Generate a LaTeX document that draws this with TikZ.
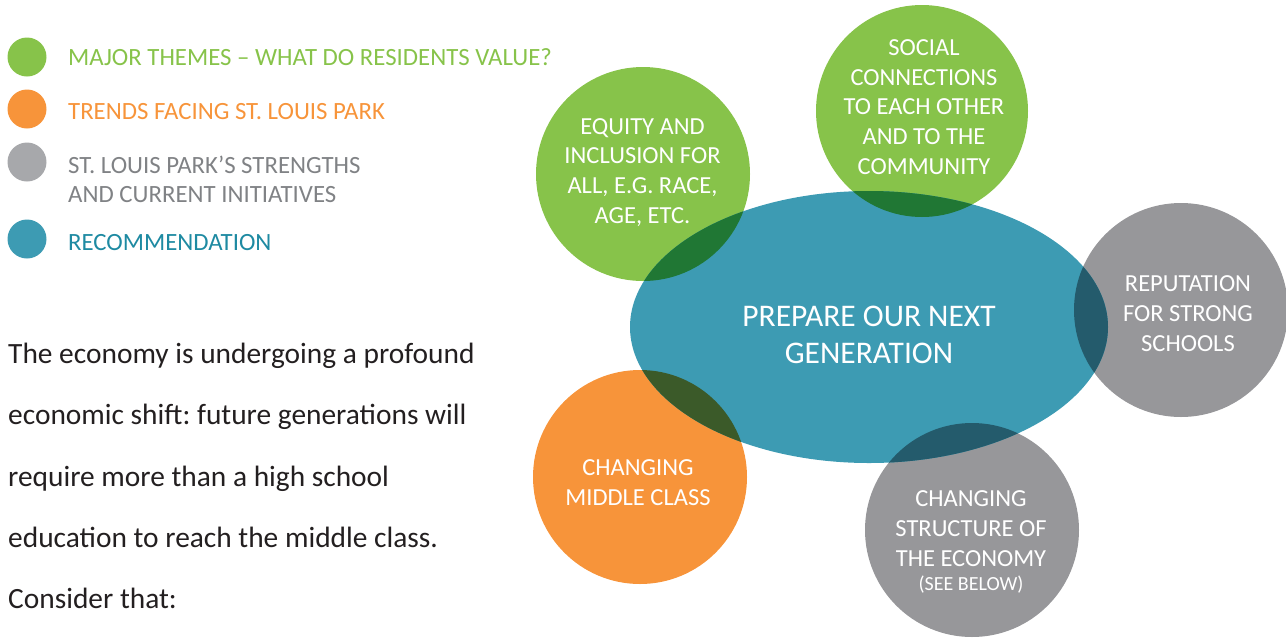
\documentclass[tikz,border=0pt]{standalone}
\usepackage{fontspec}
\setmainfont{Carlito}
\frenchspacing
\definecolor{cgreen}{RGB}{135,195,74}
\definecolor{corange}{RGB}{247,148,58}
\definecolor{cgray}{RGB}{151,151,154}
\definecolor{clgray}{RGB}{167,168,171}
\definecolor{cteal}{RGB}{61,155,179}
\definecolor{dgreen}{RGB}{32,119,52}
\definecolor{dorange}{RGB}{59,90,41}
\definecolor{dgray}{RGB}{36,91,108}
\definecolor{tgray}{RGB}{128,130,133}
\definecolor{tteal}{RGB}{30,138,162}
\definecolor{bodytext}{RGB}{35,31,32}
\begin{document}
\begin{tikzpicture}[x=1pt,y=-1pt,
  ctext/.style={text=white, align=center, font=\fontsize{24.5}{29.6}\selectfont, inner sep=0pt, anchor=base},
  legtext/.style={anchor=base west, inner sep=0pt, align=left, font=\fontsize{24.8}{29}\selectfont},
  bodyline/.style={anchor=base west, inner sep=0pt, text=bodytext, font=\fontsize{29.4}{35}\selectfont}]
\useasboundingbox (0,0) rectangle (1286,638);
% legend
\fill[cgreen] (27,57) circle (19.5);
\fill[corange] (27,109) circle (19.5);
\fill[clgray] (27,162) circle (19.5);
\fill[cteal] (27,239) circle (19.5);
\node[legtext, text=cgreen] (l1) at (68,65.5) {MAJOR THEMES – WHAT DO RESIDENTS VALUE?};
\node[legtext, text=corange] (l2) at (68,119) {TRENDS FACING ST. LOUIS PARK};
\node[legtext, text=tgray] (l3) at (68,202) {ST. LOUIS PARK’S STRENGTHS\\AND CURRENT INITIATIVES};
\node[legtext, text=tteal] (l4) at (68,250) {RECOMMENDATION};
% body text
\node[bodyline] (b1) at (8,363) {The economy is undergoing a profound};
\node[bodyline] (b2) at (8,424.5) {economic shift: future generations will};
\node[bodyline] (b3) at (8,486) {require more than a high school};
\node[bodyline] (b4) at (8,547) {education to reach the middle class.};
\node[bodyline] (b5) at (8,608) {Consider that:};
% shapes
\fill[cgreen] (643,174) circle (107);
\fill[cgreen] (922,111) circle (106);
\fill[cgray] (1181,310) circle (107);
\fill[corange] (640,477) circle (107);
\fill[cgray] (972,530) circle (107);
\fill[cteal] (869,327) ellipse (239 and 136);
% overlaps
\begin{scope}\clip (643,174) circle (107); \fill[dgreen] (869,327) ellipse (239 and 136);\end{scope}
\begin{scope}\clip (922,111) circle (106); \fill[dgreen] (869,327) ellipse (239 and 136);\end{scope}
\begin{scope}\clip (1181,310) circle (107); \fill[dgray] (869,327) ellipse (239 and 136);\end{scope}
\begin{scope}\clip (640,477) circle (107); \fill[dorange] (869,327) ellipse (239 and 136);\end{scope}
\begin{scope}\clip (972,530) circle (107); \fill[dgray] (869,327) ellipse (239 and 136);\end{scope}
% texts
\node[ctext] (eq) at (642.5,223) {EQUITY AND\\INCLUSION FOR\\ALL, E.G. RACE,\\AGE, ETC.};
\node[ctext] (so) at (924,174) {SOCIAL\\CONNECTIONS\\TO EACH OTHER\\AND TO THE\\COMMUNITY};
\node[ctext] (re) at (1188,351) {REPUTATION\\FOR STRONG\\SCHOOLS};
\node[ctext] (ch) at (638,505) {CHANGING\\MIDDLE CLASS};
\node[ctext] (st) at (971,566) {CHANGING\\STRUCTURE OF\\THE ECONOMY};
\node[ctext, font=\fontsize{20}{22}\selectfont] (sb) at (971,590) {(SEE BELOW)};
\node[ctext, font=\fontsize{31.5}{37}\selectfont] (pr) at (869,363) {PREPARE OUR NEXT\\GENERATION};
\end{tikzpicture}
\end{document}
